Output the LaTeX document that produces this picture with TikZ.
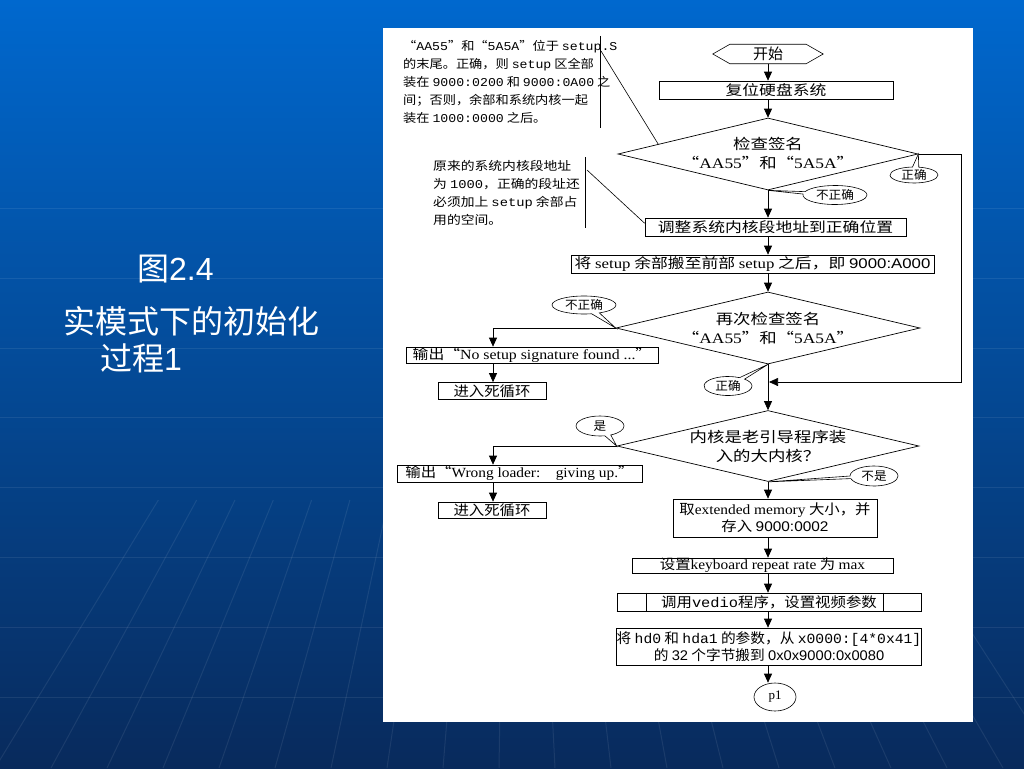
\documentclass[tikz,border=0pt]{standalone}
\usepackage{fontspec}
\usepackage{graphicx}
\setmainfont{Liberation Serif}
\newfontfamily\cjk{Noto Sans CJK SC}
\newfontfamily\monof{Liberation Mono}
\newfontfamily\ttlf{Liberation Sans}
\usetikzlibrary{shapes.geometric,shapes.callouts,arrows.meta,calc}
\newcommand\sx[2][1.2]{\scalebox{#1}[1]{#2}}
\newcommand\la[1]{{\rmfamily #1}}
\newcommand\lm[1]{{\monof #1}}
\newcommand\ls[1]{{\ttlf #1}}
\definecolor{bgtop}{RGB}{0,104,206}
\definecolor{bgmid}{RGB}{0,82,170}
\definecolor{bgbot}{RGB}{8,42,92}
\begin{document}
\begin{tikzpicture}[x=1pt,y=-1pt,
  box/.style={draw, line width=0.7pt, fill=white, inner sep=0pt, font=\cjk\fontsize{14}{17}\selectfont, align=center},
  arr/.style={draw, line width=0.7pt, -{Triangle[length=9pt,width=8pt]}},
  ln/.style={draw, line width=0.6pt},
  dia/.style={diamond, draw, line width=0.7pt, inner sep=0pt},
  dtext/.style={inner sep=0pt, align=center, font=\cjk\fontsize{14.5}{19}\selectfont},
  call/.style={ellipse callout, draw, line width=0.6pt, fill=white, inner sep=0pt, font=\cjk\fontsize{12}{13}\selectfont},
  note/.style={anchor=north west, inner sep=0pt, align=left, font=\cjk\fontsize{12}{18}\selectfont},
  ttl/.style={text=white, inner sep=0pt, anchor=west, font=\cjk\fontsize{32}{36}\selectfont},
  faint/.style={white, opacity=0.08, line width=1pt}
]
\useasboundingbox (0,0) rectangle (1024,768);
% background
\shade[top color=bgtop, middle color=bgmid, bottom color=bgbot] (0,0) rectangle (1024,768);
\foreach \yy in {208,278,348,417,487,557,627,697} {\draw[faint] (0,\yy) -- (1024,\yy);}
\foreach \xb in {-5,51,...,1100} {
  \pgfmathsetmacro\xt{512+(\xb-512)*0.6840}
  \draw[faint] (\xt,500) -- (\xb,768);
}
% white panel
\fill[white] (383,28) rectangle (973,722);

% title
\node[ttl] (t1) at (137,269) {图\ls{2.4}};
\node[ttl] (t2) at (63,321) {实模式下的初始化};
\node[ttl] (t3) at (100,358) {过程\ls{1}};

\coordinate (ax) at (768,0);
\coordinate (bx) at (493,0);

% start
\node[inner sep=0pt, minimum width=110, minimum height=19, font=\cjk\fontsize{15}{17}\selectfont] (start) at (768,54) {开始};
\draw[ln] (start.west) -- ([xshift=17pt]start.north west) -- ([xshift=-17pt]start.north east) -- (start.east) -- ([xshift=-17pt]start.south east) -- ([xshift=17pt]start.south west) -- cycle;

\node[box, minimum width=234, minimum height=18] (reset) at (776,90) {\sx{复位硬盘系统}};

\node[dia, minimum width=300, minimum height=72] (d1) at (768,154) {};
\node[dtext] (d1t) at (768,153) {\sx{检查签名}\\\sx{“\la{AA55}”和“\la{5A5A}”}};

\node[box, minimum width=261, minimum height=18] (adj) at (775.5,227) {\sx{调整系统内核段地址到正确位置}};
\node[box, minimum width=363, minimum height=18] (mov) at (752.5,264) {\sx{将 \la{setup} 余部搬至前部 \la{setup} 之后，即 \ls{9000:A000}}};

\node[dia, minimum width=304, minimum height=72] (d2) at (768,328) {};
\node[dtext] (d2t) at (768,328) {\sx{再次检查签名}\\\sx{“\la{AA55}”和“\la{5A5A}”}};

\node[box, minimum width=252, minimum height=16] (nos) at (532,355) {\sx[1.13]{输出“\la{No setup signature found ...}”}};
\node[box, minimum width=108, minimum height=17] (loop1) at (492,391) {\sx[1.1]{进入死循环}};

\node[dia, minimum width=302, minimum height=71] (d3) at (768,446) {};
\node[dtext] (d3t) at (768,446) {\sx{内核是老引导程序装}\\\sx{入的大内核？}};

\node[box, minimum width=245, minimum height=17] (wr) at (519.5,473.5) {\sx[1.1]{输出“\la{Wrong loader:\quad giving up.}”}};
\node[box, minimum width=108, minimum height=16] (loop2) at (492,510) {\sx[1.1]{进入死循环}};

\node[box, minimum width=204, minimum height=38] (mem) at (775,518) {\sx[1.1]{取\la{extended memory} 大小，并}\\\sx[1.1]{存入 \ls{9000:0002}}};
\node[box, minimum width=261, minimum height=15] (kb) at (762.5,565.5) {\sx[1.1]{设置\la{keyboard repeat rate} 为 \la{max}}};
\node[box, minimum width=304, minimum height=18] (vid) at (769,602) {\sx[1.1]{调用\lm{vedio}程序，设置视频参数}};
\draw[ln] ([xshift=30pt]vid.north west) -- ([xshift=30pt]vid.south west);
\draw[ln] ([xshift=-38pt]vid.north east) -- ([xshift=-38pt]vid.south east);
\draw[line width=1.6pt] (vid.south west) -- (vid.south east);
\node[box, minimum width=304, minimum height=37] (hd) at (769,646.5) {\sx[1.05]{将 \lm{hd0} 和 \lm{hda1} 的参数，从 \lm{x0000:[4*0x41]}}\\\sx[1.05]{的 \ls{32} 个字节搬到 \ls{0x0x9000:0x0080}}};
\node[ellipse, draw, line width=0.6pt, minimum width=42, minimum height=28, inner sep=0pt, font=\rmfamily\fontsize{13}{14}\selectfont] (p1) at (775,697) {p1};

% main arrows
\draw[arr] (start.south -| ax) -- (reset.north -| ax);
\draw[arr] (reset.south -| ax) -- (d1.north);
\draw[arr] (d1.south) -- (adj.north -| ax);
\draw[arr] (adj.south -| ax) -- (mov.north -| ax);
\draw[arr] (mov.south -| ax) -- (d2.north);
\draw[arr] (d2.south) -- (d3.north);
\coordinate (rt) at (961,382);
\coordinate (j) at (769,382);
\draw[arr] (d1.east) -| (rt) -- (j);
\draw[arr] (d2.west) -| (nos.north -| bx);
\draw[arr] (nos.south -| bx) -- (loop1.north -| bx);
\draw[arr] (d3.west) -| (wr.north -| bx);
\draw[arr] (wr.south -| bx) -- (loop2.north -| bx);
\draw[arr] (d3.south) -- (mem.north -| ax);
\draw[arr] (mem.south -| ax) -- (kb.north -| ax);
\draw[arr] (kb.south -| ax) -- (vid.north -| ax);
\draw[arr] (vid.south -| ax) -- (hd.north -| ax);
\draw[arr] (hd.south -| ax) -- (p1.north -| ax);

% callouts
\node[call, minimum width=48, minimum height=16, callout absolute pointer={(d1.east)}] (c1) at (914,175) {\sx[1.05]{正确}};
\node[call, minimum width=64, minimum height=19, callout absolute pointer={(d1.south)}] (c2) at (835,195) {\sx[1.05]{不正确}};
\node[call, minimum width=64, minimum height=18, callout absolute pointer={(d2.west)}] (c3) at (584,305) {\sx[1.05]{不正确}};
\node[call, minimum width=48, minimum height=19, callout absolute pointer={(d2.south)}] (c4) at (728,386) {\sx[1.05]{正确}};
\node[call, minimum width=48, minimum height=20, callout absolute pointer={(d3.west)}] (c5) at (600,426) {\sx[1.05]{是}};
\node[call, minimum width=48, minimum height=20, callout absolute pointer={(d3.south)}] (c6) at (874,476) {\sx[1.05]{不是}};

% annotations
\node[note] (a1) at (403,40) {\sx[1.1]{“\lm{AA55}”和“\lm{5A5A}”位于 \lm{setup.S}}\\
\sx[1.1]{的末尾。正确，则 \lm{setup} 区全部}\\
\sx[1.1]{装在 \lm{9000:0200} 和 \lm{9000:0A00} 之}\\
\sx[1.1]{间；否则，余部和系统内核一起}\\
\sx[1.1]{装在 \lm{1000:0000} 之后。}};
\coordinate (v1a) at (600,36);
\coordinate (v1b) at (600,128);
\draw[ln] (v1a) -- (v1b);
\coordinate (l1a) at (601,51);
\draw[ln] (l1a) -- ($(d1.west)!0.27!(d1.north)$);

\node[note] (a2) at (433,160) {\sx[1.15]{原来的系统内核段地址}\\
\sx[1.15]{为 \lm{1000}，正确的段址还}\\
\sx[1.15]{必须加上 \lm{setup} 余部占}\\
\sx[1.15]{用的空间。}};
\coordinate (v2a) at (585,157);
\coordinate (v2b) at (585,228);
\draw[ln] (v2a) -- (v2b);
\coordinate (l2a) at (587,170);
\draw[ln] (l2a) -- ($(adj.north west)!0.3!(adj.south west)$);
\end{tikzpicture}
\end{document}
